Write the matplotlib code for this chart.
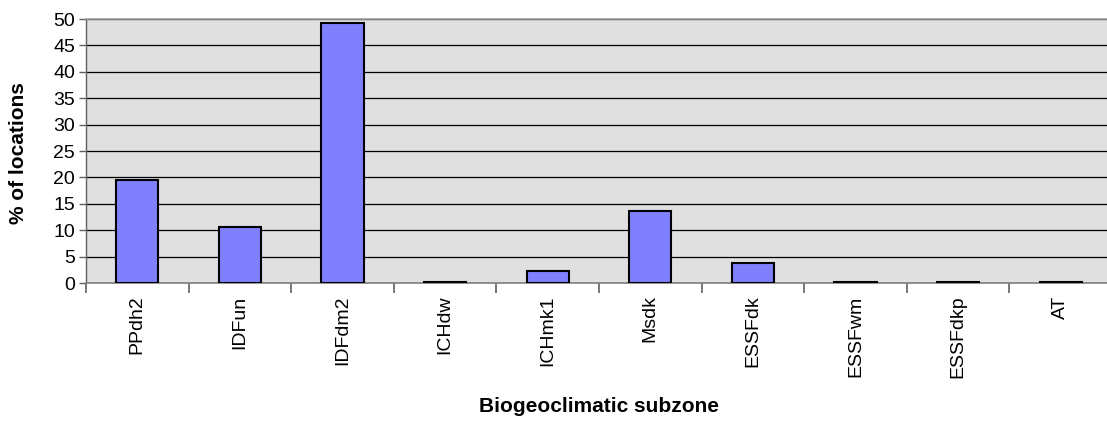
import matplotlib
matplotlib.use("Agg")
import matplotlib.pyplot as plt
import numpy as np

categories = ["PPdh2", "IDFun", "IDFdm2", "ICHdw", "ICHmk1", "Msdk", "ESSFdk", "ESSFwm", "ESSFdkp", "AT"]
values = [19.6, 10.6, 49.2, 0.2, 2.3, 13.6, 3.8, 0.2, 0.2, 0.2]
yticks = list(range(0, 51, 5))

plt.rcParams['font.family'] = ['Liberation Sans', 'DejaVu Sans']

fig = plt.figure(figsize=(11.07, 4.24), dpi=100)
ax = fig.add_axes([86/1107, (424-283)/424, 1026/1107, 264/424])
ax.set_facecolor('#E0E0E0')

x = np.arange(len(categories))
ax.bar(x, values, width=0.41, color='#8080FF', edgecolor='black', linewidth=1.5, zorder=3)

ax.set_xlim(-0.5, len(categories) - 0.5)
ax.set_ylim(0, 50)
ax.set_yticks(yticks)
ax.set_yticklabels([str(t) for t in yticks], fontsize=14)
ax.yaxis.grid(True, color='black', linewidth=0.9, zorder=1)
ax.set_axisbelow(True)

ax.set_xticks(np.arange(len(categories) + 1) - 0.5, minor=False)
ax.set_xticklabels([])
ax.set_xticks(x, minor=True)
ax.set_xticklabels(categories, minor=True, rotation=90, fontsize=14)
ax.tick_params(axis='x', which='major', length=7, color='#606060', width=1.2, direction='out')
ax.tick_params(axis='x', which='minor', length=0, pad=9)
ax.tick_params(axis='y', length=5, color='#606060', width=1.0, pad=3)

for s in ['top', 'right']:
    ax.spines[s].set_color('#A0A0A0')
    ax.spines[s].set_linewidth(1.2)
ax.spines['bottom'].set_color('#808080')
ax.spines['bottom'].set_linewidth(1.2)
ax.spines['left'].set_color('#606060')
ax.spines['left'].set_linewidth(1.0)

fig.text(19/1107, 1 - 153/424, '% of locations', fontsize=15, fontweight='bold',
         rotation=90, ha='center', va='center')
fig.text(599/1107, 1 - 406/424, 'Biogeoclimatic subzone', fontsize=15, fontweight='bold',
         ha='center', va='center')

fig.savefig('out.png', dpi=100)
